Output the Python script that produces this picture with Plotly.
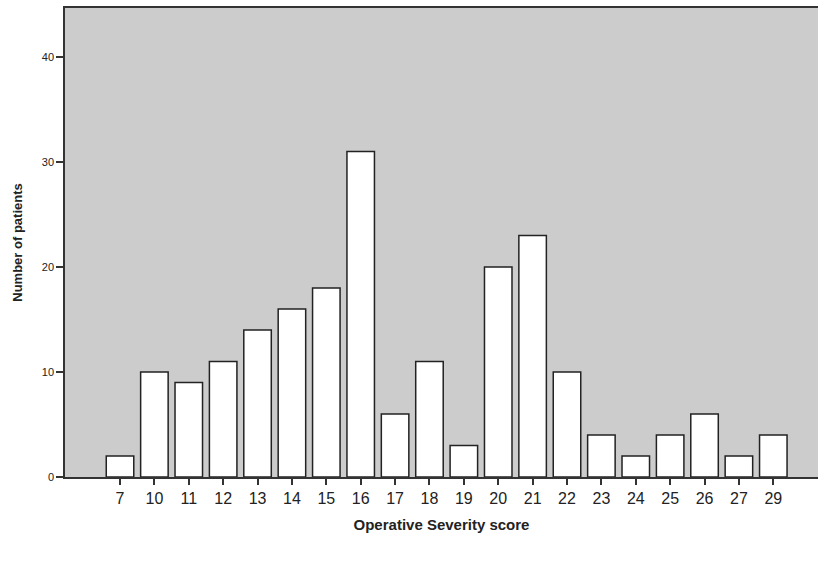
import plotly.graph_objects as go

categories = ["7", "10", "11", "12", "13", "14", "15", "16", "17", "18",
              "19", "20", "21", "22", "23", "24", "25", "26", "27", "29"]
counts = [2, 10, 9, 11, 14, 16, 18, 31, 6, 11, 3, 20, 23, 10, 4, 2, 4, 6, 2, 4]
y_ticks = [0, 10, 20, 30, 40]

fig = go.Figure(go.Bar(
    x=categories, y=counts,
    marker=dict(color="white", line=dict(color="#222222", width=1.5)),
    width=0.8,
))

fig.update_layout(
    width=818, height=565,
    margin=dict(l=65, r=0, t=8, b=88),
    paper_bgcolor="white",
    plot_bgcolor="#CCCCCC",
    font=dict(family="Liberation Sans, Arial, sans-serif", color="#222222"),
    showlegend=False,
    xaxis=dict(
        type="category", range=[-1.6, 20.3],
        showgrid=False, showline=True, linecolor="#333333", linewidth=1.5, mirror=True,
        ticks="outside", ticklen=6, tickcolor="#333333", tickwidth=1.5,
        tickfont=dict(size=16, color="#222222"),
        title=dict(text="<b>Operative Severity score</b>", font=dict(size=15), standoff=14),
    ),
    yaxis=dict(
        range=[0, 44.67], tickvals=y_ticks,
        showgrid=False, zeroline=False, showline=True, linecolor="#333333", linewidth=1.5,
        ticks="outside", ticklen=7, tickcolor="#333333", tickwidth=1.5,
        tickfont=dict(size=11, color="#222222"),
        title=dict(text="<b>Number of patients</b>", font=dict(size=13), standoff=16),
    ),
)

fig.write_html("out.html", config={"displayModeBar": False},
               post_script="document.body.style.margin='0';")
